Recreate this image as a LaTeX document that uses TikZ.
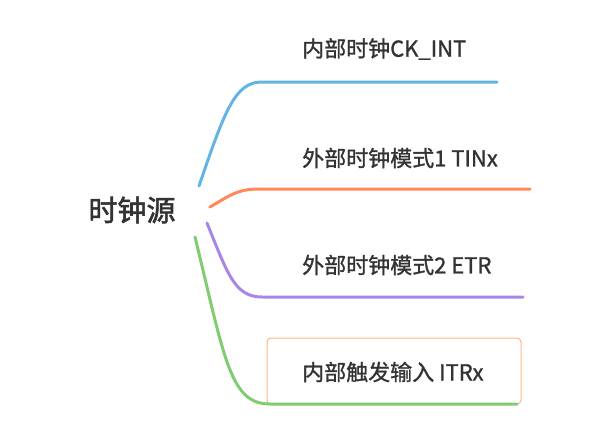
\documentclass[tikz,border=0pt]{standalone}
\usepackage{fontspec}
\setmainfont{Noto Sans CJK SC}
\newfontfamily\medfont[FakeBold=1.2]{Noto Sans CJK SC}
\newfontfamily\boldfont[FakeBold=2]{Noto Sans CJK SC}
\definecolor{txt}{HTML}{333333}
\definecolor{cblue}{HTML}{63B4E6}
\definecolor{corange}{HTML}{FF8A57}
\definecolor{cpurple}{HTML}{A886E8}
\definecolor{cgreen}{HTML}{80CC70}
\definecolor{cbox}{HTML}{FFB47F}
\begin{document}
\begin{tikzpicture}[x=1pt,y=-1pt,
  branch/.style={line width=3pt,line cap=round},
  leaf/.style={text=txt,font=\medfont\fontsize{22}{26}\selectfont,anchor=west,inner sep=0pt},
  rootnode/.style={text=txt,font=\boldfont\fontsize{29}{34}\selectfont,inner sep=0pt}]
\useasboundingbox (0,0) rectangle (602,436);
\node[rootnode] (root) at (132,210) {时钟源};
\node[leaf] (l1) at (302,49) {内部时钟CK\_INT};
\node[leaf] (l2) at (302,158) {外部时钟模式1 TINx};
\node[leaf] (l3) at (302,265) {外部时钟模式2 ETR};
\node[leaf] (l4) at (302,372) {内部触发输入 ITRx};
\node[draw=cbox,line width=1pt,rounded corners=4pt,minimum width=254pt,minimum height=66pt,inner sep=0pt] (box) at (394,371) {};
\coordinate (s1) at (199,186);
\coordinate (s2) at (210,207);
\coordinate (s3) at (207,223);
\coordinate (s4) at (195,237);
\coordinate (e1) at (497,82);
\coordinate (e2) at (530,189);
\coordinate (e3) at (523,297);
\coordinate (e4) at (517,404);
\draw[branch,cblue] (s1) .. controls (225,110) and (235,82) .. (262,82) -- (e1);
\draw[branch,corange] (s2) .. controls (235,192) and (240,189) .. (262,189) -- (e2);
\draw[branch,cpurple] (s3) .. controls (228,275) and (235,297) .. (262,297) -- (e3);
\draw[branch,cgreen] (s4) .. controls (225,360) and (230,404) .. (270,404) -- (e4);
\end{tikzpicture}
\end{document}
